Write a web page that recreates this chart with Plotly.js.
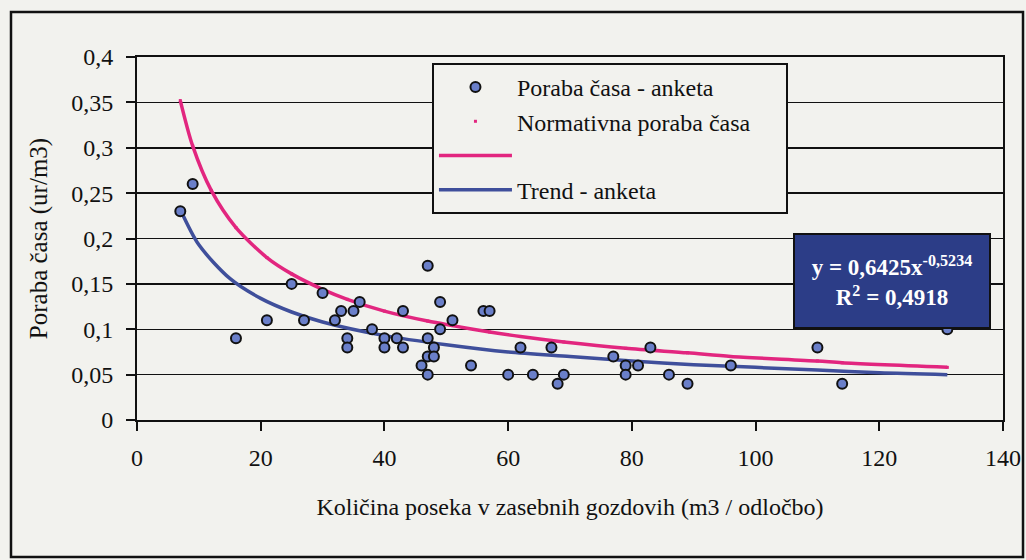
<!DOCTYPE html>
<html>
<head>
<meta charset="utf-8">
<script src="https://cdn.plot.ly/plotly-3.0.1.min.js"></script>
<style>html,body{margin:0;padding:0;background:#f2f2ee;}</style>
</head>
<body>
<div id="chart" style="width:1026px;height:560px;"></div>
<script>
// Survey points: Poraba časa - anketa
const surveyX = [7, 9, 16, 21, 25, 27, 30, 32, 33, 35, 36, 34, 34, 38, 40, 40, 42, 43, 43, 46, 47, 47, 47, 47, 48, 48, 49, 49, 51, 54, 56, 57, 60, 62, 64, 67, 68, 69, 77, 79, 79, 81, 83, 86, 89, 96, 110, 114, 131];
const surveyY = [0.23, 0.26, 0.09, 0.11, 0.15, 0.11, 0.14, 0.11, 0.12, 0.12, 0.13, 0.09, 0.08, 0.10, 0.09, 0.08, 0.09, 0.12, 0.08, 0.06, 0.17, 0.09, 0.07, 0.05, 0.08, 0.07, 0.13, 0.10, 0.11, 0.06, 0.12, 0.12, 0.05, 0.08, 0.05, 0.08, 0.04, 0.05, 0.07, 0.06, 0.05, 0.06, 0.08, 0.05, 0.04, 0.06, 0.08, 0.04, 0.10];

// Normativna poraba časa
const normX = [7, 9, 12, 16, 21, 25, 30, 34, 40, 47, 51, 57, 62, 69, 79, 89, 96, 110, 114, 131];
const normY = [0.352, 0.302, 0.253, 0.212, 0.179, 0.161, 0.144, 0.133, 0.120, 0.109, 0.104, 0.097, 0.092, 0.086, 0.079, 0.074, 0.070, 0.065, 0.063, 0.058];

// Trend - anketa
const trendX = [7, 10, 15, 20, 25, 30, 40, 50, 60, 70, 80, 90, 100, 110, 120, 131];
const trendY = [0.232, 0.193, 0.156, 0.134, 0.119, 0.108, 0.093, 0.083, 0.075, 0.070, 0.065, 0.061, 0.058, 0.055, 0.052, 0.050];

const legendNames = ['Poraba časa - anketa', 'Normativna poraba časa\u00a0\u00a0\u00a0\u00a0\u00a0', ' ', 'Trend - anketa'];
const xTitle = 'Količina poseka v zasebnih gozdovih (m3 / odločbo)';
const yTitle = 'Poraba časa (ur/m3)';
const eqText = '<b>y = 0,6425x<sup>-0,5234</sup></b><br><b>R<sup>2</sup> = 0,4918</b>';

const FONT = 'Liberation Serif';
const BG = '#f2f2ee';

const traces = [
  {x: normX, y: normY, type: 'scatter', mode: 'lines', name: legendNames[2],
   line: {color: '#e2267f', width: 3.5, shape: 'spline', smoothing: 0.8}, legendrank: 3},
  {x: trendX, y: trendY, type: 'scatter', mode: 'lines', name: legendNames[3],
   line: {color: '#3f4f9b', width: 3.5, shape: 'spline', smoothing: 0.8}, legendrank: 4},
  {x: normX, y: normY, type: 'scatter', mode: 'markers', name: legendNames[1],
   marker: {symbol: 'square', size: 3, color: '#e2267f'}, legendrank: 2},
  {x: surveyX, y: surveyY, type: 'scatter', mode: 'markers', name: legendNames[0],
   marker: {symbol: 'circle', size: 10, color: '#6a7fc9', line: {color: '#111', width: 2}}, legendrank: 1}
];

const layout = {
  width: 1026, height: 560,
  paper_bgcolor: BG, plot_bgcolor: BG,
  separators: ', ',
  margin: {l: 137, r: 23, t: 57, b: 140},
  font: {family: FONT, size: 24, color: '#111'},
  showlegend: true,
  legend: {
    x: 0.3406, y: 0.9835, xanchor: 'left', yanchor: 'top',
    bgcolor: BG, bordercolor: '#111', borderwidth: 2,
    font: {family: FONT, size: 24, color: '#111'},
    itemwidth: 73, traceorder: 'normal'
  },
  xaxis: {
    range: [0, 140], dtick: 20, tick0: 0,
    showline: true, linecolor: '#111', linewidth: 2, mirror: true,
    ticks: 'outside', ticklen: 9, tickwidth: 2, tickcolor: '#111',
    ticklabelstandoff: 6,
    showgrid: false, zeroline: false,
    tickfont: {family: FONT, size: 24, color: '#111'},
    title: {text: xTitle, font: {family: FONT, size: 24, color: '#111'}, standoff: 28}
  },
  yaxis: {
    range: [0, 0.4], dtick: 0.05, tick0: 0,
    showline: true, linecolor: '#111', linewidth: 2, mirror: true,
    ticks: 'outside', ticklen: 9, tickwidth: 2, tickcolor: '#111',
    ticklabelstandoff: 8,
    showgrid: true, gridcolor: '#111', gridwidth: 1.5, zeroline: false,
    tickfont: {family: FONT, size: 24, color: '#111'},
    title: {text: yTitle, font: {family: FONT, size: 25, color: '#111'}, standoff: 16}
  },
  annotations: [{
    xref: 'paper', yref: 'paper', x: 0.8718, y: 0.383,
    xanchor: 'center', yanchor: 'middle',
    text: eqText, showarrow: false, align: 'center',
    font: {family: FONT, size: 23, color: '#ffffff'},
    bgcolor: '#2c3d87', bordercolor: '#111', borderwidth: 2,
    width: 192, height: 90
  }],
  shapes: [{
    type: 'rect', xref: 'paper', yref: 'paper',
    x0: -0.1455, x1: 1.0231, y0: -0.3774, y1: 1.124,
    line: {color: '#111', width: 2.5}, fillcolor: 'rgba(0,0,0,0)', layer: 'above'
  }]
};

Plotly.newPlot('chart', traces, layout, {displayModeBar: false, staticPlot: true});
</script>
</body>
</html>
